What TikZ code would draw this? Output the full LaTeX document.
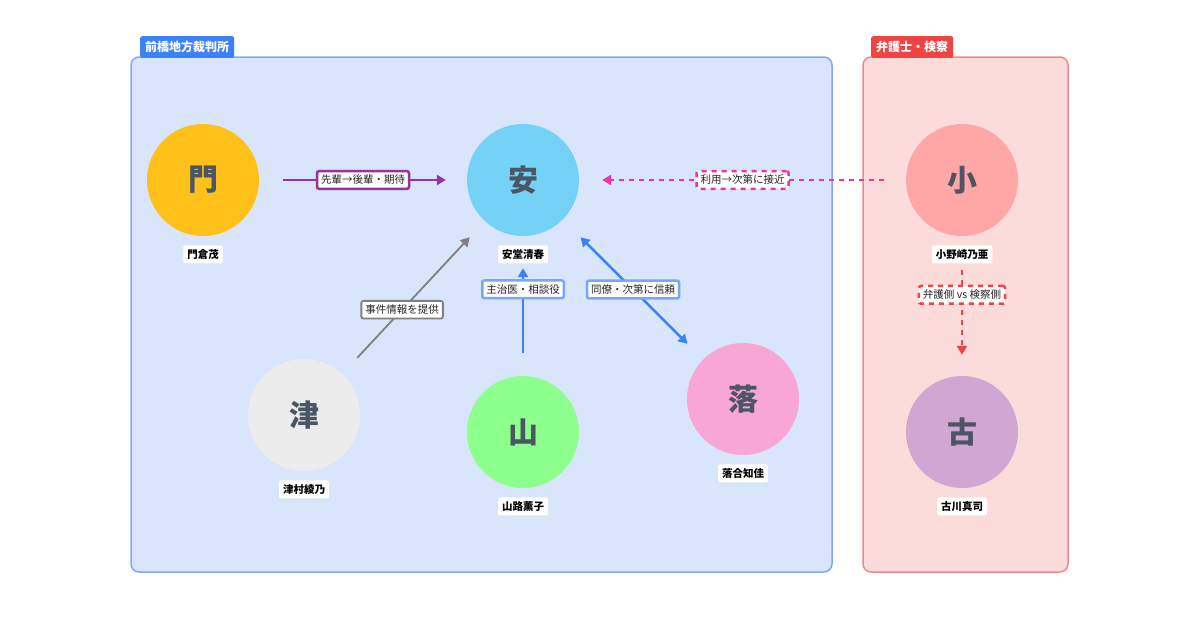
\documentclass[tikz,border=0pt]{standalone}
\usepackage{fontspec}
\setmainfont{Noto Sans CJK JP}
\usetikzlibrary{positioning, arrows.meta}
\definecolor{courtfill}{HTML}{D8E5FA}
\definecolor{courtline}{HTML}{82AAF4}
\definecolor{courttag}{HTML}{3B82F6}
\definecolor{lawfill}{HTML}{FCDBDB}
\definecolor{lawline}{HTML}{F08A8A}
\definecolor{lawtag}{HTML}{EF4444}
\definecolor{glyph}{HTML}{4B5563}
\tikzset{
    x=1pt, y=-1pt,
    person/.style={circle, minimum size=112pt, inner sep=0pt, text=glyph,
        font=\bfseries\fontsize{30}{30}\selectfont},
    pname/.style={fill=white, rounded corners=2pt, inner sep=4pt,
        font=\bfseries\fontsize{10.5}{12}\selectfont},
    grouptag/.style={rounded corners=2pt, text=white, inner sep=5pt,
        font=\bfseries\fontsize{12}{14}\selectfont, anchor=south west},
    rel/.style={fill=white, draw=#1, rounded corners=2pt, inner sep=4pt,
        font=\fontsize{10.5}{12}\selectfont, text=black!85},
    link/.style={line width=2.5pt, draw=#1, -{Triangle[length=9pt,width=10pt]}},
}
\begin{document}
\begin{tikzpicture}
    \useasboundingbox (0, 0) rectangle (1200, 630);
    % groups
    \draw[courtline, fill=courtfill, line width=1.5pt, rounded corners=8pt]
        (131, 57) rectangle (832, 572);
    \node[grouptag, fill=courttag] (court) at (140, 58) {前橋地方裁判所};
    \draw[lawline, fill=lawfill, line width=1.5pt, rounded corners=8pt]
        (863, 57) rectangle (1068, 572);
    \node[grouptag, fill=lawtag] (law) at (871, 58) {弁護士・検察};
    % people
    \node[person, fill=orange!55!yellow!90] (mon) at (203, 180) {門};
    \node[person, fill=cyan!55!white] (an) at (523, 180) {安};
    \node[person, fill=red!35!white] (ko) at (962, 180) {小};
    \node[person, fill=gray!15!white] (tsu) at (304, 415) {津};
    \node[person, fill=green!45!white] (yama) at (523, 432) {山};
    \node[person, fill=magenta!35!white] (ochi) at (743, 399) {落};
    \node[person, fill=violet!35!white] (furu) at (962, 432) {古};
    % relations
    \draw[link=violet!80!white, shorten <=24pt, shorten >=21pt] (mon) -- (an)
        node[rel=violet!80!white, pos=.5] (monan) {先輩→後輩・期待};
    \draw[link=magenta!80!white, dash pattern=on 5pt off 5pt,
        shorten <=22pt, shorten >=23pt] (ko) -- (an)
        node[rel=magenta!80!white, pos=.5] (koan) {利用→次第に接近};
    \draw[link=gray, line width=1.8pt, shorten <=22pt, shorten >=22pt]
        (tsu) -- (an) node[rel=gray, pos=.42] (tsuan) {事件情報を提供};
    \draw[link=courttag, shorten <=23pt, shorten >=32pt] (yama) -- (an)
        node[rel=courttag!70!white, pos=.62] (yamaan) {主治医・相談役};
    \draw[link=courttag, {Triangle[length=9pt,width=10pt]}-{Triangle[length=9pt,width=10pt]},
        shorten <=22pt, shorten >=25pt] (ochi) -- (an)
        node[rel=courttag!70!white, pos=.5] (ochian) {同僚・次第に信頼};
    \draw[link=lawtag, dash pattern=on 5pt off 5pt, shorten <=34pt,
        shorten >=21pt] (ko) -- (furu)
        node[rel=lawtag, pos=.42] (kofuru) {弁護側 vs 検察側};
    % names
    \node[pname, below=9pt of mon] (monname) {門倉茂};
    \node[pname, below=9pt of an] (anname) {安堂清春};
    \node[pname, below=9pt of ko] (koname) {小野崎乃亜};
    \node[pname, below=9pt of tsu] (tsuname) {津村綾乃};
    \node[pname, below=9pt of yama] (yamaname) {山路薫子};
    \node[pname, below=9pt of ochi] (ochiname) {落合知佳};
    \node[pname, below=9pt of furu] (furuname) {古川真司};
\end{tikzpicture}
\end{document}
